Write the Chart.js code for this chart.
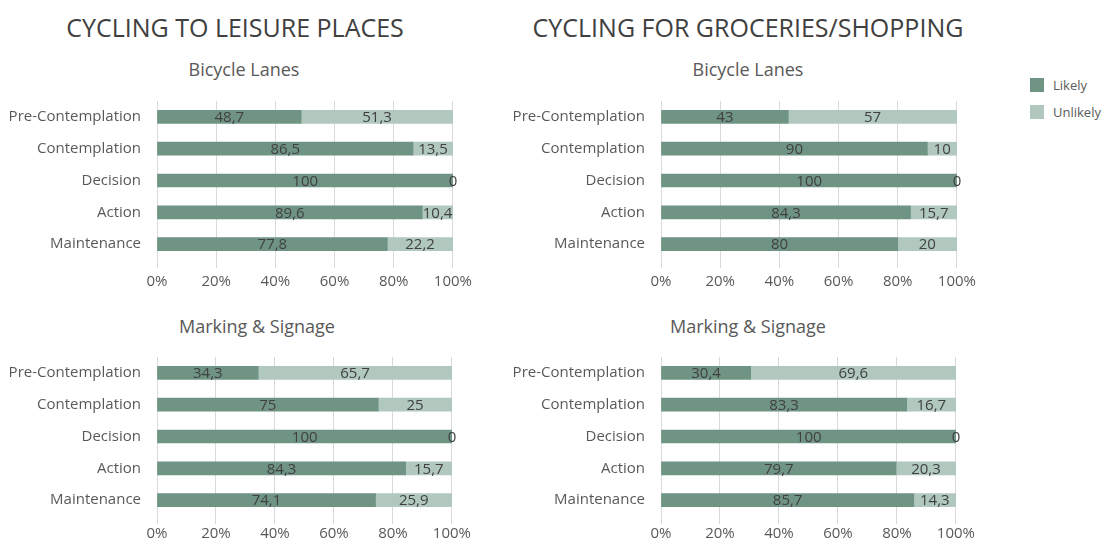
<!DOCTYPE html>
<html>
<head>
<meta charset="utf-8">
<script src="https://cdn.jsdelivr.net/npm/chart.js@4"></script>
<style>
  body { margin: 0; background: #fff; font-family: "Open Sans", sans-serif; color: #595959; }
  #page { position: relative; width: 1118px; height: 545px; overflow: hidden; }
  .head { position: absolute; text-align: center; color: #404040; font-size: 25px; }
  .sub { position: absolute; text-align: center; color: #595959; font-size: 18px; }
  canvas { position: absolute; }
  .leg { position: absolute; left: 1030px; font-size: 13px; color: #595959; }
  .leg span { display: inline-block; width: 14px; height: 14px; vertical-align: -2px; margin-right: 9px; }
</style>
</head>
<body>
<div id="page">
  <div class="head" style="left:0;top:10px;width:470px;">CYCLING TO LEISURE PLACES</div>
  <div class="head" style="left:500px;top:10px;width:496px;">CYCLING FOR GROCERIES/SHOPPING</div>
  <div class="sub" style="left:144px;top:57px;width:200px;">Bicycle Lanes</div>
  <div class="sub" style="left:648px;top:57px;width:200px;">Bicycle Lanes</div>
  <div class="sub" style="left:137px;top:314px;width:240px;">Marking &amp; Signage</div>
  <div class="sub" style="left:628px;top:314px;width:240px;">Marking &amp; Signage</div>
  <div class="leg" style="top:76px;"><span style="background:#6f9484"></span>Likely</div>
  <div class="leg" style="top:103px;"><span style="background:#b0c8be"></span>Unlikely</div>

  <canvas id="c1" width="480" height="219" style="left:-3px;top:76px;"></canvas>
  <canvas id="c2" width="480" height="219" style="left:501px;top:76px;"></canvas>
  <canvas id="c3" width="475" height="219" style="left:-3px;top:332px;"></canvas>
  <canvas id="c4" width="475" height="219" style="left:501px;top:332px;"></canvas>
</div>
<script>
'use strict';

const stages = ['Pre-Contemplation', 'Contemplation', 'Decision', 'Action', 'Maintenance'];
const xTicks = [0, 20, 40, 60, 80, 100];

const leisureLanesLikely = [48.7, 86.5, 100, 89.6, 77.8];
const leisureLanesUnlikely = [51.3, 13.5, 0, 10.4, 22.2];
const shoppingLanesLikely = [43, 90, 100, 84.3, 80];
const shoppingLanesUnlikely = [57, 10, 0, 15.7, 20];
const leisureSignsLikely = [34.3, 75, 100, 84.3, 74.1];
const leisureSignsUnlikely = [65.7, 25, 0, 15.7, 25.9];
const shoppingSignsLikely = [30.4, 83.3, 100, 79.7, 85.7];
const shoppingSignsUnlikely = [69.6, 16.7, 0, 20.3, 14.3];

const likelyColor = '#6f9484';
const unlikelyColor = '#b0c8be';

// value labels in the middle of each segment, decimal comma
const barLabels = {
  id: 'barLabels',
  afterDatasetsDraw(chart) {
    const ctx = chart.ctx;
    ctx.save();
    ctx.font = '15px "Open Sans", sans-serif';
    ctx.fillStyle = '#404040';
    ctx.textAlign = 'center';
    ctx.textBaseline = 'middle';
    chart.data.datasets.forEach((ds, di) => {
      chart.getDatasetMeta(di).data.forEach((bar, i) => {
        const txt = String(ds.data[i]).replace('.', ',');
        ctx.fillText(txt, (bar.x + bar.base) / 2, bar.y + 1);
      });
    });
    ctx.restore();
  }
};

function makeChart(id, likely, unlikely, tickPad) {
  return new Chart(document.getElementById(id), {
    type: 'bar',
    data: {
      labels: stages,
      datasets: [
        { label: 'Likely', data: likely, backgroundColor: likelyColor, barThickness: 13 },
        { label: 'Unlikely', data: unlikely, backgroundColor: unlikelyColor, barThickness: 13 }
      ]
    },
    options: {
      indexAxis: 'y',
      responsive: false,
      animation: false,
      layout: { padding: { top: 5, right: 20, left: 0, bottom: 0 } },
      plugins: { legend: { display: false }, tooltip: { enabled: false } },
      scales: {
        x: {
          stacked: true,
          min: 0,
          max: 100,
          afterBuildTicks: (axis) => { axis.ticks = xTicks.map(v => ({ value: v })); },
          afterFit: (axis) => { axis.height = 35; },
          grid: { color: '#d9d9d9', tickLength: 8, tickColor: '#d9d9d9' },
          border: { display: false },
          ticks: {
            padding: tickPad,
            color: '#595959',
            font: { family: 'Open Sans', size: 15 },
            callback: (v) => v + '%'
          }
        },
        y: {
          stacked: true,
          afterFit: (axis) => { axis.width = 160; },
          grid: { display: false, drawTicks: false },
          border: { display: false },
          ticks: {
            padding: 16,
            color: '#595959',
            font: { family: 'Open Sans', size: 15 }
          }
        }
      }
    },
    plugins: [barLabels]
  });
}

makeChart('c1', leisureLanesLikely, leisureLanesUnlikely, 5);
makeChart('c2', shoppingLanesLikely, shoppingLanesUnlikely, 5);
makeChart('c3', leisureSignsLikely, leisureSignsUnlikely, 1);
makeChart('c4', shoppingSignsLikely, shoppingSignsUnlikely, 1);
</script>
</body>
</html>
